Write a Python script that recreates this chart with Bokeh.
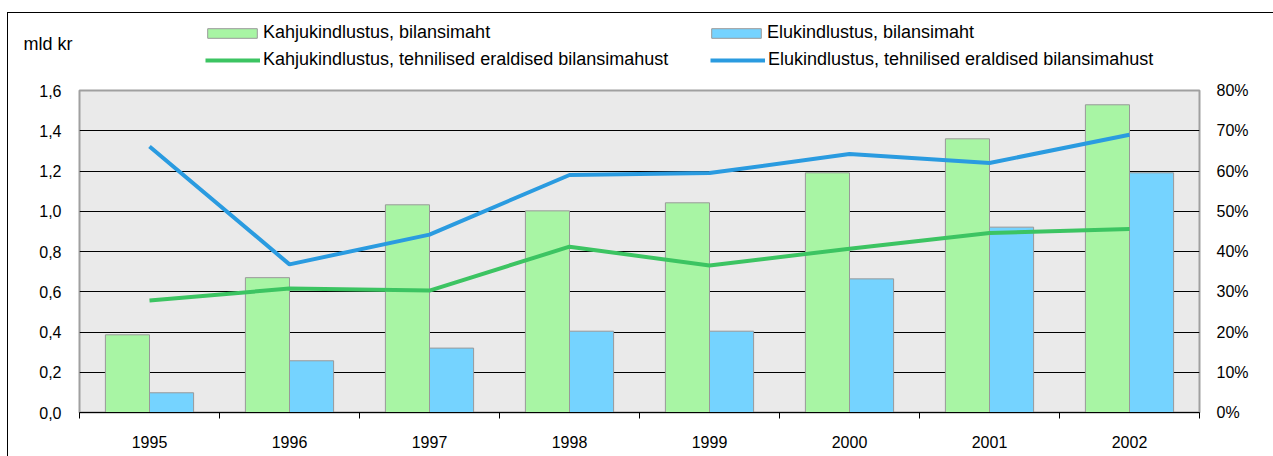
from bokeh.plotting import figure
from bokeh.layouts import column
from bokeh.models import (Range1d, LinearAxis, FixedTicker, CustomJSTickFormatter,
                          Legend, LegendItem, Label, ColumnDataSource)
from bokeh.embed import file_html
from bokeh.resources import INLINE
import numpy as np

years = ["1995", "1996", "1997", "1998", "1999", "2000", "2001", "2002"]
kahju_bilans = [0.386, 0.67, 1.032, 1.002, 1.042, 1.191, 1.36, 1.529]
elu_bilans = [0.098, 0.257, 0.32, 0.404, 0.404, 0.664, 0.921, 1.191]
kahju_pct = [27.8, 30.8, 30.3, 41.2, 36.5, 40.7, 44.6, 45.6]
elu_pct = [66.1, 36.8, 44.2, 59.0, 59.5, 64.2, 62.0, 69.0]
left_ticks = [0.0, 0.2, 0.4, 0.6, 0.8, 1.0, 1.2, 1.4, 1.6]
right_ticks = [0, 10, 20, 30, 40, 50, 60, 70, 80]
series_names = ["Kahjukindlustus, bilansimaht", "Elukindlustus, bilansimaht",
                "Kahjukindlustus, tehnilised eraldised bilansimahust",
                "Elukindlustus, tehnilised eraldised bilansimahust"]
unit_label = "mld kr"

FONT = "Liberation Sans"
GREEN_BAR = "#A8F5A4"
BLUE_BAR = "#75D3FF"
GREEN_LINE = "#3CC462"
BLUE_LINE = "#2A9BE0"
BAR_EDGE = "#999999"

W = 1265
TOP_H = 60
MAIN_H = 383

n = len(years)
xc = np.arange(n) + 0.5
bw = 0.315

src = ColumnDataSource(dict(
    xk=xc - bw / 2, xe=xc + bw / 2, x=xc,
    kb=kahju_bilans, eb=elu_bilans, kp=kahju_pct, ep=elu_pct))

# ---------------- top strip: unit label + legend ----------------
top = figure(width=W, height=TOP_H, output_backend="svg", toolbar_location=None,
             x_range=Range1d(0, W), y_range=Range1d(0, TOP_H),
             x_axis_type=None, y_axis_type=None, min_border=0,
             min_border_left=0, min_border_right=0, min_border_top=0, min_border_bottom=0)
top.outline_line_color = None
top.grid.visible = False
top.background_fill_color = "white"
top.border_fill_color = "white"

# legend-only renderers (their data lies outside the visible range)
dk = top.vbar(x=[-500], top=[-500], width=1, fill_color=GREEN_BAR, line_color=BAR_EDGE, line_width=1)
de = top.vbar(x=[-500], top=[-500], width=1, fill_color=BLUE_BAR, line_color=BAR_EDGE, line_width=1)
dlk = top.line(x=[-500, -400], y=[-500, -500], line_color=GREEN_LINE, line_width=4)
dle = top.line(x=[-500, -400], y=[-500, -500], line_color=BLUE_LINE, line_width=4)


def add_leg(label, rend, x, y, gw, gh, standoff):
    lg = Legend(items=[LegendItem(label=label, renderers=[rend])], location=(x, y),
                glyph_width=gw, glyph_height=gh, label_height=20, label_standoff=standoff,
                padding=0, margin=0, spacing=0, border_line_color=None,
                background_fill_alpha=0, label_text_font=FONT,
                label_text_font_size="18px", label_text_color="black")
    top.add_layout(lg, "center")


add_leg(series_names[0], dk, 193, 30, 62, 12, 0)
add_leg(series_names[1], de, 697, 30, 62, 12, 0)
add_leg(series_names[2], dlk, 197, 3, 55, 12, 3)
add_leg(series_names[3], dle, 702, 3, 55, 12, 3)

top.add_layout(Label(x=15, y=30, text=unit_label, text_font=FONT, text_font_size="18px",
                     text_color="black", text_baseline="middle"))

# ---------------- main chart ----------------
p = figure(width=W, height=MAIN_H, output_backend="svg", toolbar_location=None,
           x_range=Range1d(0, n), y_range=Range1d(0, 1.6),
           min_border_left=71, min_border_right=74, min_border_top=17, min_border_bottom=44)
p.background_fill_color = "#EAEAEA"
p.border_fill_color = "white"
p.outline_line_color = "#A0A0A0"
p.outline_line_width = 2
p.extra_y_ranges = {"pct": Range1d(0, 80)}

for fig in (top, p):
    try:
        fig.frame_align = False
    except Exception:
        pass

p.xgrid.visible = False
p.ygrid.ticker = FixedTicker(ticks=left_ticks[1:-1])
p.ygrid.grid_line_color = "black"
p.ygrid.grid_line_width = 1

p.vbar(x="xk", top="kb", width=bw, source=src, fill_color=GREEN_BAR,
       line_color=BAR_EDGE, line_width=1)
p.vbar(x="xe", top="eb", width=bw, source=src, fill_color=BLUE_BAR,
       line_color=BAR_EDGE, line_width=1)
p.line(x="x", y="kp", source=src, y_range_name="pct", line_color=GREEN_LINE, line_width=4)
p.line(x="x", y="ep", source=src, y_range_name="pct", line_color=BLUE_LINE, line_width=4)

p.yaxis.ticker = FixedTicker(ticks=left_ticks)
p.yaxis.formatter = CustomJSTickFormatter(code="return tick.toFixed(1).replace('.', ',');")
for ax in p.yaxis:
    ax.axis_line_color = None
    ax.major_tick_line_color = None
    ax.minor_tick_line_color = None
    ax.major_tick_out = 0
    ax.major_label_standoff = 18
    ax.major_label_text_font = FONT
    ax.major_label_text_font_size = "16px"
    ax.major_label_text_color = "black"

ra = LinearAxis(y_range_name="pct", ticker=FixedTicker(ticks=right_ticks),
                formatter=CustomJSTickFormatter(code="return tick.toFixed(0) + '%';"))
ra.axis_line_color = None
ra.major_tick_line_color = None
ra.minor_tick_line_color = None
ra.major_tick_out = 0
ra.major_label_standoff = 17
ra.major_label_text_font = FONT
ra.major_label_text_font_size = "16px"
ra.major_label_text_color = "black"
p.add_layout(ra, "right")

xa = p.xaxis[0]
xa.ticker = FixedTicker(ticks=list(xc), minor_ticks=list(range(n + 1)))
xa.major_label_overrides = {float(v): y for v, y in zip(xc, years)}
xa.major_tick_line_color = None
xa.major_tick_out = 0
xa.major_tick_in = 0
xa.minor_tick_out = 6
xa.minor_tick_in = 0
xa.minor_tick_line_color = "black"
xa.axis_line_color = "black"
xa.axis_line_width = 1
xa.major_label_standoff = 17
xa.major_label_text_font = FONT
xa.major_label_text_font_size = "16px"
xa.major_label_text_color = "black"

layout = column(top, p, spacing=0)
layout.styles = {"border-top": "1px solid black", "border-left": "1px solid black",
                 "margin-top": "12px", "margin-left": "7px"}

open("out.html", "w").write(file_html(layout, INLINE))
